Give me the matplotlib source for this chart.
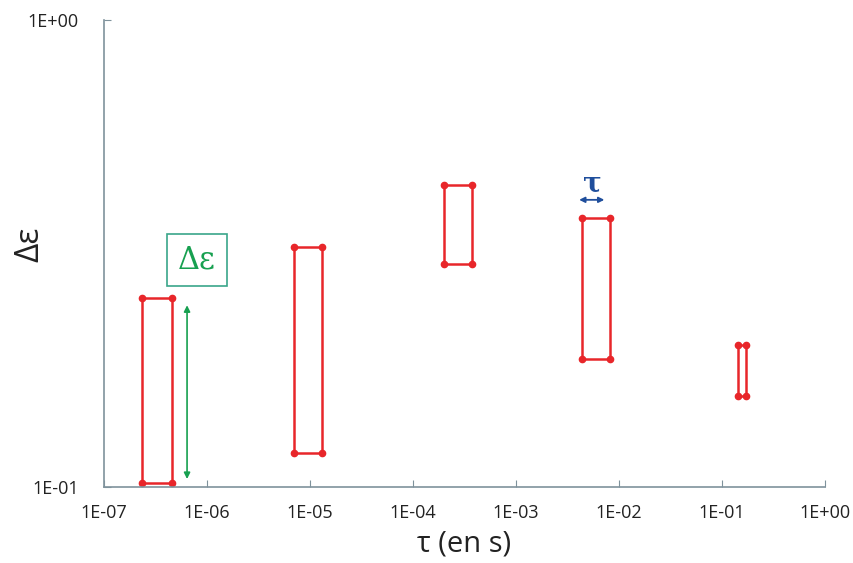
import matplotlib.pyplot as plt
from matplotlib.ticker import FuncFormatter, NullLocator

# bornes des rectangles (tau en s, delta epsilon)
tau_min = [2.35e-7, 7.0e-6, 2.0e-4, 4.4e-3, 0.143]
tau_max = [4.55e-7, 1.3e-5, 3.7e-4, 8.2e-3, 0.171]
de_min = [0.102, 0.118, 0.300, 0.188, 0.157]
de_max = [0.254, 0.327, 0.443, 0.377, 0.201]

x_ticks = [1e-7, 1e-6, 1e-5, 1e-4, 1e-3, 1e-2, 1e-1, 1e0]
y_ticks = [1e-1, 1e0]

plt.rcParams['font.family'] = ['Open Sans', 'DejaVu Sans']

fig = plt.figure(figsize=(8.54, 5.63), dpi=100)
ax = fig.add_axes([0.1218, 0.135, 0.8443, 0.8295])

red = '#e8262a'
for x0, x1, y0, y1 in zip(tau_min, tau_max, de_min, de_max):
    ax.plot([x0, x1, x1, x0, x0], [y0, y0, y1, y1, y0], color=red, lw=1.8,
            marker='o', markersize=4.5, markevery=[0, 1, 2, 3])

ax.set_xscale('log')
ax.set_yscale('log')
ax.set_xlim(1e-7, 1)
ax.set_ylim(0.1, 1)
ax.set_xticks(x_ticks)
ax.set_yticks(y_ticks)
ax.xaxis.set_minor_locator(NullLocator())
ax.yaxis.set_minor_locator(NullLocator())
fmt = FuncFormatter(lambda v, p: f"{v:.0E}")
ax.xaxis.set_major_formatter(fmt)
ax.yaxis.set_major_formatter(fmt)

axis_col = '#7f929c'
for s in ['top', 'right']:
    ax.spines[s].set_visible(False)
for s in ['left', 'bottom']:
    ax.spines[s].set_color(axis_col)
    ax.spines[s].set_linewidth(1.2)
ax.tick_params(axis='both', direction='in', length=5, color=axis_col,
               labelsize=13, labelcolor='#222222')
ax.tick_params(axis='x', pad=12)
ax.tick_params(axis='y', pad=18)

ax.set_xlabel('τ (en s)', fontsize=21, color='#222222', labelpad=6)
ax.set_ylabel('Δε', fontsize=24, color='#222222')
ax.yaxis.set_label_coords(-0.08, 0.52)

# annotation Delta epsilon
green = '#17a050'
ax.annotate('', xy=(6.4e-7, 0.104), xytext=(6.4e-7, 0.245),
            arrowprops=dict(arrowstyle='<|-|>', color=green, lw=1.2,
                            mutation_scale=9, shrinkA=0, shrinkB=0))
ax.text(8.0e-7, 0.306, 'Δε', fontsize=22, color=green, family='DejaVu Serif',
        ha='center', va='center',
        bbox=dict(boxstyle='square,pad=0.35', fc='white', ec='#3aa58a', lw=1.2))

# annotation tau
blue = '#1f4e9c'
ax.annotate('', xy=(4.1e-3, 0.412), xytext=(7.2e-3, 0.412),
            arrowprops=dict(arrowstyle='<|-|>', color=blue, lw=1.3,
                            mutation_scale=8, shrinkA=0, shrinkB=0))
ax.text(5.45e-3, 0.447, 'τ', fontsize=20, color=blue, fontweight='bold',
        family='DejaVu Serif', ha='center', va='center')

fig.savefig('out.png', dpi=100)
